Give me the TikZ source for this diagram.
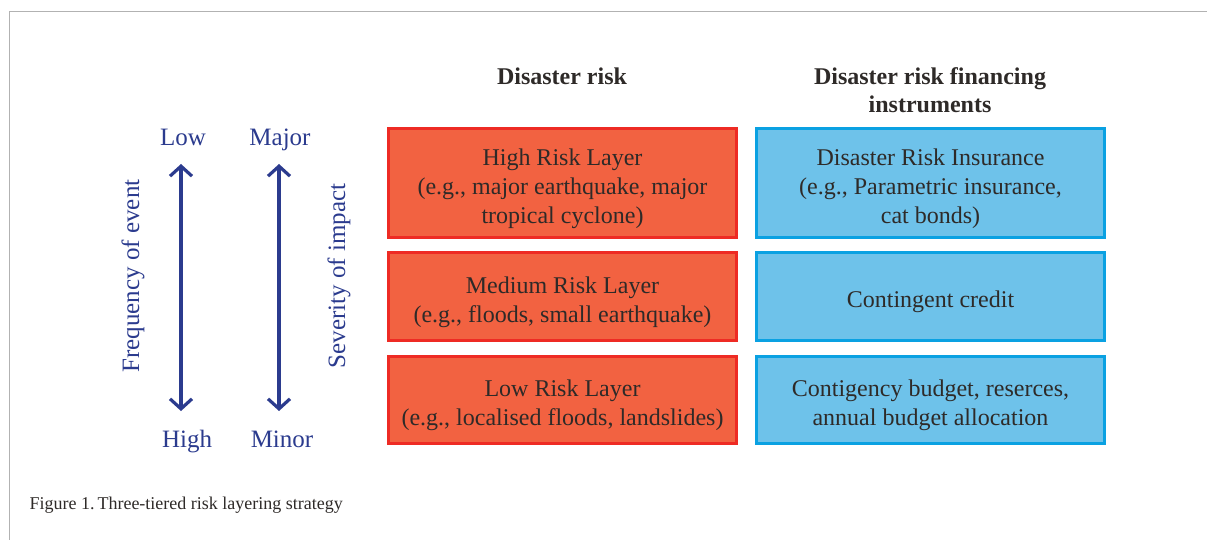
\documentclass[tikz,border=0pt]{standalone}
\usepackage{fontspec}
\setmainfont{Liberation Serif}
\usetikzlibrary{arrows.meta}

\definecolor{riskfill}{HTML}{F26241}
\definecolor{riskedge}{HTML}{EE2B24}
\definecolor{finfill}{HTML}{6EC2EA}
\definecolor{finedge}{HTML}{0AA1E2}
\definecolor{axisblue}{HTML}{2B3B8E}
\definecolor{boxtext}{HTML}{2E2A28}

\begin{document}
\begin{tikzpicture}[%
      x=1pt, y=-1pt,
      layerbox/.style={line width=2.6pt, minimum width=348pt, inner sep=0pt},
      layertext/.style={align=center, text=boxtext, inner sep=0pt, yshift=-5.5pt,
        font=\fontsize{24}{29}\selectfont},
      riskbox/.style={layerbox, draw=riskedge, fill=riskfill},
      finbox/.style={layerbox, draw=finedge, fill=finfill},
      head/.style={font=\fontsize{24}{28}\selectfont\bfseries, align=center, text=boxtext},
      axislabel/.style={font=\fontsize{25}{28}\selectfont, text=axisblue},
      endlabel/.style={axislabel, text height=17pt, text depth=6pt},
      axisarrow/.style={draw=axisblue, line width=3.2pt,
        {Straight Barb[length=10pt,width=22pt]}-{Straight Barb[length=10pt,width=22pt]}},
      ]
      \useasboundingbox (0,0) rectangle (1207,540);
      % frame
      \draw [color=black!30, line width=1pt] (9,540) -- (9,12) -- (1207,12);

      % column heads
      \node [head] (riskhead) at (562,76) {Disaster risk};
      \node [head] (finhead) at (930,90) {Disaster risk financing\\instruments};

      % risk layers
      \node [riskbox, minimum height=109pt,
        label={[layertext]center:{High Risk Layer\\(e.g., major earthquake, major\\tropical cyclone)}}]
        (high) at (562.5,183) {};
      \node [riskbox, minimum height=88pt,
        label={[layertext]center:{Medium Risk Layer\\(e.g., floods, small earthquake)}}]
        (medium) at (562.5,296.5) {};
      \node [riskbox, minimum height=87pt,
        label={[layertext]center:{Low Risk Layer\\(e.g., localised floods, landslides)}}]
        (low) at (562.5,400) {};

      % financing instruments
      \node [finbox, minimum height=109pt,
        label={[layertext]center:{Disaster Risk Insurance\\(e.g., Parametric insurance,\\cat bonds)}}]
        (insurance) at (930.5,183) {};
      \node [finbox, minimum height=88pt,
        label={[layertext]center:{Contingent credit}}]
        (credit) at (930.5,296.5) {};
      \node [finbox, minimum height=87pt,
        label={[layertext]center:{Contigency budget, reserces,\\annual budget allocation}}]
        (budget) at (930.5,400) {};

      % axes
      \node [endlabel] (freqlow) at (183,140) {Low};
      \node [endlabel] (freqhigh) at (187,442) {High};
      \node [endlabel] (sevmajor) at (280,140) {Major};
      \node [endlabel] (sevminor) at (282,442) {Minor};
      \coordinate (freqtop) at (181,164);
      \coordinate (freqbot) at (181,411);
      \coordinate (sevtop) at (279,164);
      \coordinate (sevbot) at (279,411);
      \draw [axisarrow] (freqtop) -- (freqbot);
      \draw [axisarrow] (sevtop) -- (sevbot);
      \node [axislabel, rotate=90] (freqtext) at (133,276) {Frequency of event};
      \node [axislabel, rotate=90] (sevtext) at (339,276) {Severity of impact};

      % caption
      \node [anchor=base west, text=boxtext, font=\fontsize{18}{20}\selectfont]
        (caption) at (26,509) {Figure 1.\,Three-tiered risk layering strategy};
      \end{tikzpicture}
\end{document}
